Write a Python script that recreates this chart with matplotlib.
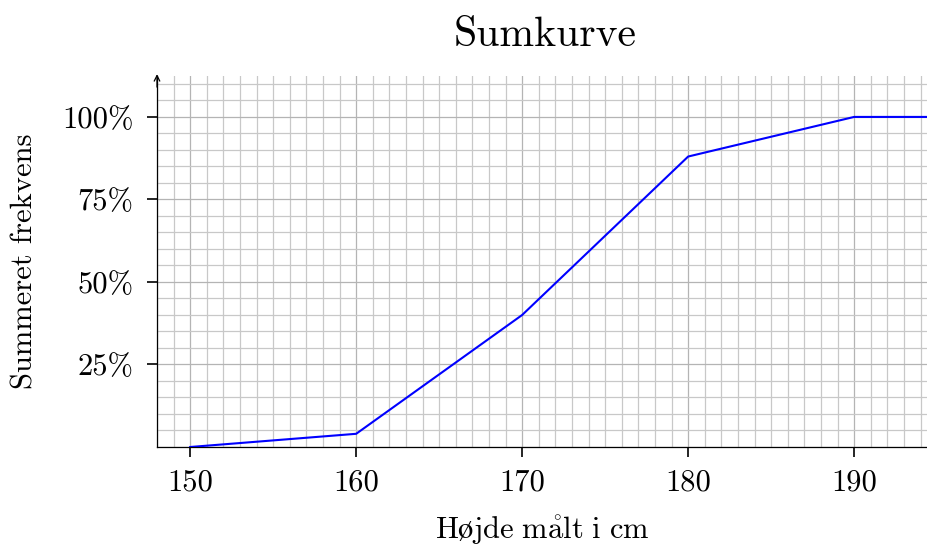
import matplotlib
matplotlib.use("Agg")
import matplotlib.pyplot as plt
from matplotlib.ticker import MultipleLocator

plt.rcParams['font.family'] = ['cmr10', 'DejaVu Serif']
plt.rcParams['mathtext.fontset'] = 'cm'
plt.rcParams['axes.formatter.use_mathtext'] = True

heights = [150, 160, 170, 180, 190, 195]
cum_pct = [0, 4, 40, 88, 100, 100]
xticks = [150, 160, 170, 180, 190]
yticks = [25, 50, 75, 100]
ylabels = ['25%', '50%', '75%', '100%']

fig = plt.figure(figsize=(9.28, 5.45), dpi=100)
ax = fig.add_axes([157/928, 1-447/545, 1-157/928, (447-76)/545])

ax.set_xlim(148.0, 194.45)
ax.set_ylim(0, 112.4)

ax.xaxis.set_minor_locator(MultipleLocator(1))
ax.yaxis.set_minor_locator(MultipleLocator(5))
ax.set_xticks(xticks)
ax.set_xticklabels([str(v) for v in xticks])
ax.set_yticks(yticks)
ax.set_yticklabels(ylabels)

ax.grid(which='minor', color='#c8c8c8', linewidth=0.9)
ax.grid(which='major', color='#b4b4b4', linewidth=0.9)
ax.set_axisbelow(True)

ax.plot(heights, cum_pct, color='blue', linewidth=1.5, zorder=3)

for s in ['top', 'right']:
    ax.spines[s].set_visible(False)
for s in ['left', 'bottom']:
    ax.spines[s].set_linewidth(0.9)

ax.tick_params(axis='x', which='major', direction='out', length=7, width=1.2, labelsize=22, pad=9)
ax.tick_params(axis='y', which='major', direction='out', length=7, width=1.2, labelsize=22, pad=10)
ax.tick_params(which='minor', length=0)

ax.annotate('', xy=(0, 1.005), xycoords='axes fraction', xytext=(0, 0.97),
            arrowprops=dict(arrowstyle='->', lw=0.9, color='black', shrinkA=0, shrinkB=0))

ax.set_xlabel(r'$\mathrm{H\o jde\ m\mathring{a}lt\ i\ cm}$', fontsize=22, labelpad=12)
ax.set_ylabel('Summeret frekvens', fontsize=22, labelpad=17)
fig.text(545/928, 1-35/545, 'Sumkurve', fontsize=30, ha='center', va='center')

fig.savefig('out.png', dpi=100)
